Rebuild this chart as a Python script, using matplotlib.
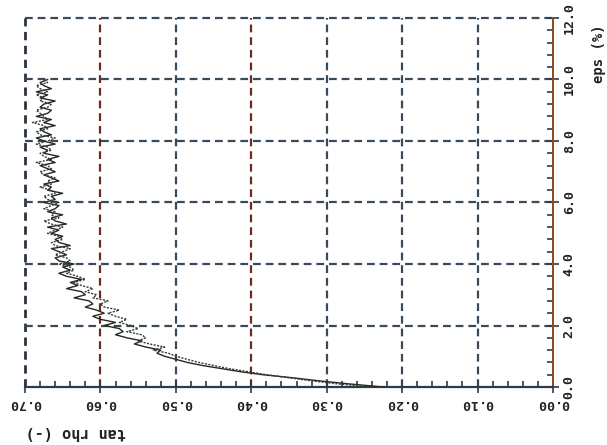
import matplotlib
matplotlib.use("Agg")
import matplotlib.pyplot as plt
from matplotlib.ticker import MultipleLocator

eps_a = [round(0.1 * i, 1) for i in range(101)]
tan_a = [0.225, 0.27, 0.31, 0.345, 0.385, 0.415, 0.44, 0.465, 0.485, 0.50,
         0.515, 0.525, 0.52, 0.54, 0.555, 0.545, 0.565, 0.58, 0.57, 0.575,
         0.595, 0.58, 0.60, 0.61, 0.595, 0.605, 0.62, 0.61, 0.615, 0.635,
         0.62, 0.625, 0.645, 0.63, 0.64, 0.625, 0.645, 0.655, 0.64, 0.65,
         0.635, 0.655, 0.66, 0.645, 0.655, 0.665, 0.64, 0.655, 0.66, 0.65,
         0.665, 0.655, 0.67, 0.645, 0.66, 0.665, 0.65, 0.67, 0.66, 0.655,
         0.675, 0.66, 0.665, 0.65, 0.67, 0.665, 0.675, 0.655, 0.665, 0.675,
         0.66, 0.67, 0.68, 0.66, 0.67, 0.655, 0.675, 0.67, 0.68, 0.66,
         0.675, 0.685, 0.665, 0.675, 0.68, 0.66, 0.675, 0.665, 0.685, 0.67,
         0.665, 0.68, 0.675, 0.66, 0.68, 0.67, 0.685, 0.665, 0.675, 0.68,
         0.67]

eps_b = [round(0.1 * i, 1) for i in range(101)]
tan_b = [0.24, 0.285, 0.32, 0.35, 0.38, 0.405, 0.43, 0.45, 0.47, 0.485,
         0.50, 0.51, 0.53, 0.515, 0.535, 0.55, 0.54, 0.545, 0.565, 0.55,
         0.56, 0.575, 0.565, 0.58, 0.59, 0.575, 0.595, 0.60, 0.59, 0.61,
         0.605, 0.62, 0.61, 0.625, 0.635, 0.62, 0.63, 0.645, 0.635, 0.64,
         0.655, 0.64, 0.645, 0.66, 0.65, 0.64, 0.66, 0.665, 0.65, 0.655,
         0.67, 0.66, 0.65, 0.665, 0.675, 0.655, 0.665, 0.66, 0.675, 0.665,
         0.655, 0.67, 0.675, 0.66, 0.665, 0.68, 0.665, 0.67, 0.66, 0.675,
         0.68, 0.665, 0.67, 0.685, 0.665, 0.675, 0.68, 0.665, 0.67, 0.685,
         0.67, 0.66, 0.68, 0.685, 0.67, 0.675, 0.69, 0.67, 0.675, 0.68,
         0.685, 0.67, 0.665, 0.68, 0.675, 0.685, 0.67, 0.68, 0.685, 0.67,
         0.675]

x_ticks = [0.0, 0.1, 0.2, 0.3, 0.4, 0.5, 0.6, 0.7]
x_labels = ["0.00", "0.10", "0.20", "0.30", "0.40", "0.50", "0.60", "0.70"]
y_ticks = [0.0, 2.0, 4.0, 6.0, 8.0, 10.0, 12.0]
y_labels = ["0.0", "2.0", "4.0", "6.0", "8.0", "10.0", "12.0"]

fig = plt.figure(figsize=(6.07, 4.45), dpi=100)
ax = fig.add_axes([25/607, 58/445, 528/607, 369/445])
ax.set_xlim(0.70, 0.0)
ax.set_ylim(0, 12)

grid_col = "#394a5a"
red_col = "#6e2a22"
dash = dict(linestyle=(0, (3.5, 2.2)), linewidth=1.6, clip_on=False)
for xv in [0.1, 0.2, 0.3, 0.5]:
    ax.axvline(xv, color=grid_col, zorder=1, **dash)
ax.axvline(0.7, color="#2a3440", zorder=1, linestyle=(0, (3.0, 2.0)), linewidth=2.0, clip_on=False)
for xv in [0.4, 0.6]:
    ax.axvline(xv, color=red_col, zorder=1, **dash)
for yv in [2, 4, 6, 8, 10, 12]:
    ax.axhline(yv, color=grid_col, zorder=1, **dash)

ax.plot(tan_a, eps_a, color="#252a25", lw=1.0, zorder=3)
ax.plot(tan_b, eps_b, color="#353b35", lw=1.0, ls=(0, (1.5, 1)), zorder=3)

for s in ["left", "top"]:
    ax.spines[s].set_visible(False)
ax.spines["bottom"].set_color("#2d3b4a")
ax.spines["bottom"].set_linewidth(1.6)
ax.spines["right"].set_color("#8a4a1e")
ax.spines["right"].set_linewidth(1.4)

ax.yaxis.tick_right()
ax.set_xticks(x_ticks)
ax.set_xticklabels(x_labels, rotation=180, fontfamily="DejaVu Sans Mono",
                   fontweight="bold", fontsize=9.5, color="#222222")
ax.set_yticks(y_ticks)
ax.set_yticklabels(y_labels, rotation=90, va="center", fontfamily="DejaVu Sans Mono",
                   fontweight="bold", fontsize=9.5, color="#222222")
ax.xaxis.set_minor_locator(MultipleLocator(0.02))
ax.yaxis.set_minor_locator(MultipleLocator(0.4))
ax.tick_params(axis="x", which="major", direction="inout", length=8, width=1.2, color="#2d3b4a", pad=3)
ax.tick_params(axis="x", which="minor", direction="in", length=4, width=1.2, color="#2d3b4a")
ax.tick_params(axis="y", which="major", direction="inout", length=8, width=1.2, color="#2d3b4a", pad=3)
ax.tick_params(axis="y", which="minor", direction="in", length=4, width=1.2, color="#2d3b4a")

fig.text(76/607, 1 - 432/445, "tan rho (-)", rotation=180, ha="center", va="center",
         fontfamily="DejaVu Sans Mono", fontweight="bold", fontsize=11, color="#222222")
fig.text(599/607, 1 - 54/445, "eps (%)", rotation=90, ha="center", va="center",
         fontfamily="DejaVu Sans Mono", fontweight="bold", fontsize=10, color="#222222")

fig.savefig("out.png", dpi=100)
